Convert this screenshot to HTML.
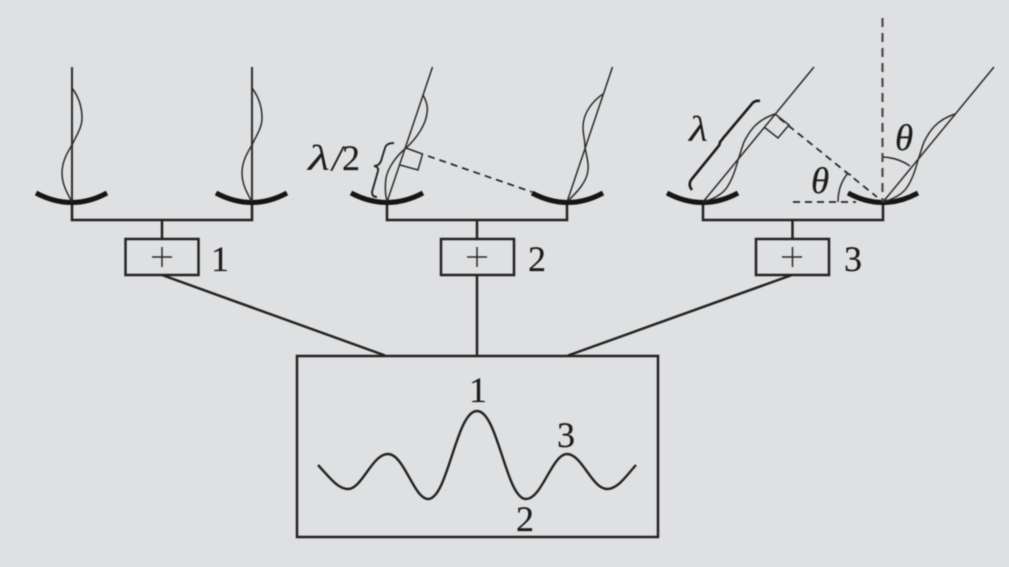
<!DOCTYPE html>
<html><head><meta charset="utf-8"><style>
html,body{margin:0;padding:0;background:#dfe0e2;width:1009px;height:567px;overflow:hidden}
svg{display:block}
text{font-family:"Liberation Serif",serif;fill:#1c1c1c;stroke:#1c1c1c;stroke-width:.2;font-size:36px}
.m{fill:none;stroke:#222;stroke-width:2.5}
.v{fill:none;stroke:#333;stroke-width:2.1}
.l{fill:none;stroke:#2a2a2a;stroke-width:1.5}
.d{fill:none;stroke:#151515;stroke-width:5;stroke-linecap:butt}
.da{fill:none;stroke:#222;stroke-width:1.7;stroke-dasharray:7 5}
</style></head><body>
<svg width="1009" height="567" viewBox="0 0 1009 567" xmlns="http://www.w3.org/2000/svg">
<g style="filter:blur(0.4px)">
<!-- group 1 -->
<path class="v" d="M72 67V202M252 67V202"/>
<path class="m" d="M72 202V220H252V202M162 220V239"/>
<rect class="m" x="125.500" y="239" width="73" height="36"/>
<path class="l" d="M152 257H172M162 247V267"/>
<path class="d" d="M36 193Q72 212 107 193M216 193Q252 212 287 193"/>
<path class="l" d="M72 88C78 96 82 106 82 118C82 128 76 136 72 145C67 153 62 162 62 173C62 184 67 193 72 202"/>
<path class="l" d="M252 88C258 96 262 106 262 118C262 128 256 136 252 145C247 153 242 162 242 173C242 184 247 193 252 202"/>
<text x="211" y="271">1</text>
<!-- group 2 -->
<path class="m" d="M387 202V220H567V202M477 220V239"/>
<rect class="m" x="441" y="239" width="73" height="36"/>
<path class="l" d="M467 257H487M477 247V267"/>
<path class="l" d="M387 202L432.500 67M567 202L612.500 67"/>
<path class="d" d="M351 193Q387 212 423 193M532 193Q568 212 603 193"/>
<path class="l" d="M423 95C427 102 428 108 427 113C426 124 417 138 406 148C396 156 388 168 386 178C385 186 385 194 387 201"/>
<path class="l" d="M603 94C594 100 583 112 583 127C583 135 585 140 585 147C586 155 589 162 588 170C587 182 577 192 568 201"/>
<path class="da" d="M428 156L532 192"/>
<path class="l" d="M406 148L422.500 154L418 170L400 165"/>
<path d="M394 143C388 143 386 145 385 148L381 161Q379 166 374 166Q379 167 378 171L372 192Q372 197 377 197" fill="none" stroke="#222" stroke-width="1.9"/>
<text x="308" y="170" font-style="italic" textLength="22" lengthAdjust="spacingAndGlyphs" style="font-size:36px;stroke-width:0">λ</text><text x="332" y="170" font-style="italic">/</text><text x="342" y="170">2</text>
<text x="528" y="271">2</text>
<!-- group 3 -->
<path class="m" d="M703 202V220H883V202M792.500 220V239"/>
<rect class="m" x="756" y="239" width="73" height="36"/>
<path class="l" d="M782 257H802M792.500 247V267"/>
<path class="l" d="M703 202L814 67M883 202L994 67"/>
<path class="d" d="M667 193Q703 212 738 193M848 193Q883 212 918 193"/>
<path class="l" d="M775 114C757 120 750 130 744 142C741 150 740 155 738 160C735 172 730 185 724 191C718 197 710 200 703 202"/>
<path class="l" d="M955 114C937 120 930 130 924 142C921 150 920 155 918 160C915 172 910 185 904 191C898 197 890 200 883 202"/>
<path class="da" d="M779 118L877 197"/>
<path class="l" d="M775 114L789 125L778 138L764 127"/>
<path d="M760 101Q754 100 751 105L724 137Q721 141 720 142Q720 145 717 148L691 180Q688 185 692 190" fill="none" stroke="#1a1a1a" stroke-width="2.6"/>
<text x="689" y="141" font-style="italic" textLength="19" lengthAdjust="spacingAndGlyphs" style="font-size:36px;stroke-width:0">λ</text>
<path d="M882.500 18V202" fill="none" stroke="#4a4a4a" stroke-width="2.2" stroke-dasharray="9 6"/>
<path class="da" d="M793 202H856"/>
<path class="l" d="M883 157Q899 158 910 166M838 202Q838 185 848 173"/>
<path class="l" d="M845 172L851 175"/>
<text x="895" y="150" font-style="italic" style="font-size:37px">θ</text>
<text x="811" y="193" font-style="italic" style="font-size:37px">θ</text>
<text x="844" y="271">3</text>
<!-- connectors -->
<path class="m" d="M162 275L385 355.500M477 275V356M792 275L568 355.500"/>
<rect class="m" x="297" y="356" width="361" height="181"/>
<path fill="none" stroke="#222" stroke-width="2.4" d="M318 465C330 478 338 489 348 489C362 489 372 454 388 454C404 454 414 499 428 499C448 499 456 411 477 411C498 411 506 499 526 499C542 499 552 454 567 454C582 454 592 489 607 489C618 489 626 476 636 465"/>
<text x="469" y="402">1</text>
<text x="557" y="447">3</text>
<text x="516" y="531">2</text>
</g>
</svg>
</body></html>
